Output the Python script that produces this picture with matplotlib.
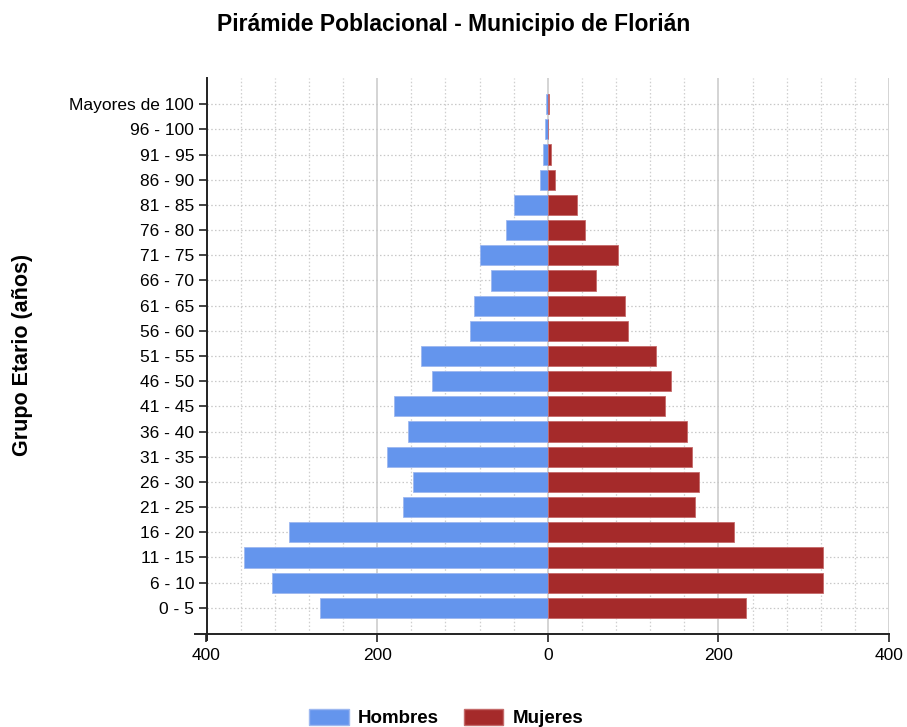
import matplotlib
matplotlib.use("Agg")
import matplotlib.pyplot as plt
from matplotlib.patches import Patch
from matplotlib.lines import Line2D
import numpy as np

categories = ["0 - 5", "6 - 10", "11 - 15", "16 - 20", "21 - 25", "26 - 30", "31 - 35",
              "36 - 40", "41 - 45", "46 - 50", "51 - 55", "56 - 60", "61 - 65", "66 - 70",
              "71 - 75", "76 - 80", "81 - 85", "86 - 90", "91 - 95", "96 - 100",
              "Mayores de 100"]
hombres = [267, 323, 356, 303, 170, 158, 188, 164, 180, 136, 148, 91, 87, 67, 79, 49, 39, 9, 5, 3, 2]
mujeres = [232, 323, 323, 218, 173, 177, 169, 163, 137, 145, 127, 94, 91, 56, 82, 44, 34, 8, 4, 0, 2]
xticks = [-400, -200, 0, 200, 400]
xticklabels = ["400", "200", "0", "200", "400"]

plt.rcParams['font.family'] = ['Liberation Sans', 'DejaVu Sans']

W, H = 907, 727
fig = plt.figure(figsize=(W / 100, H / 100), dpi=100)
ax_l, ax_b, ax_w, ax_h = 206.5 / W, 1 - 634 / H, (889 - 206.5) / W, (634 - 78) / H
ax = fig.add_axes([ax_l, ax_b, ax_w, ax_h])

y = np.arange(len(categories))
ax.barh(y, [-h for h in hombres], height=0.8, color="#6495ED",
        edgecolor="#9db8f0", linewidth=0.6, zorder=3, label="Hombres")
ax.barh(y, mujeres, height=0.8, color="#A52A2A",
        edgecolor="#c46a6a", linewidth=0.6, zorder=3, label="Mujeres")

ax.set_xlim(-400, 400)
ax.set_ylim(-1.04, len(categories) - 1 + 1.04)

# grid
for v in range(-400, 401, 40):
    if v % 200 == 0:
        ax.axvline(v, color="#d4d4d4", linewidth=1.4, zorder=1)
    else:
        ax.axvline(v, color="#cfcfcf", linewidth=0.9, linestyle=(0, (1.2, 1.8)), zorder=1)
for yy in y:
    ax.axhline(yy, color="#c8c8c8", linewidth=0.9, linestyle=(0, (1.2, 1.8)), zorder=1)

ax.set_yticks(y)
ax.set_yticklabels(categories, fontsize=12.5)
ax.set_xticks(xticks)
ax.set_xticklabels(xticklabels, fontsize=12.5)
ax.tick_params(axis='both', direction='out', length=6, width=1.2, color='#222222')
ax.tick_params(axis='y', pad=3)
ax.tick_params(axis='x', pad=4)

for s in ['top', 'right']:
    ax.spines[s].set_visible(False)
for s in ['left', 'bottom']:
    ax.spines[s].set_linewidth(1.4)
    ax.spines[s].set_color('#222222')

# small spine overhangs as in the reference
ax_px_w = ax_w * W
ax_px_h = ax_h * H
ax.add_line(Line2D([-12 / ax_px_w, 0], [0, 0], transform=ax.transAxes, color='#222222',
                   linewidth=1.4, clip_on=False))
ax.add_line(Line2D([0, 0], [-6 / ax_px_h, 0], transform=ax.transAxes, color='#222222',
                   linewidth=1.4, clip_on=False))

fig.text(23 / W, 1 - 355 / H, "Grupo Etario (años)", rotation=90, ha='center', va='center',
         fontsize=15.5, fontweight='bold')

fig.text(0.5, 1 - 24 / H, "Pirámide Poblacional - Municipio de Florián", ha='center', va='center',
         fontsize=16.5, fontweight='bold')

handles = [Patch(facecolor="#6495ED", edgecolor="#9db8f0", label="Hombres"),
           Patch(facecolor="#A52A2A", edgecolor="#c46a6a", label="Mujeres")]
leg = fig.legend(handles=handles, loc='center', bbox_to_anchor=(0.492, 0.012), ncol=2,
                 frameon=False, prop={'weight': 'bold', 'size': 13.5},
                 handlelength=2.1, handleheight=0.9, columnspacing=1.3, handletextpad=0.5,
                 borderpad=0.0)

fig.savefig("out.png", dpi=100)
